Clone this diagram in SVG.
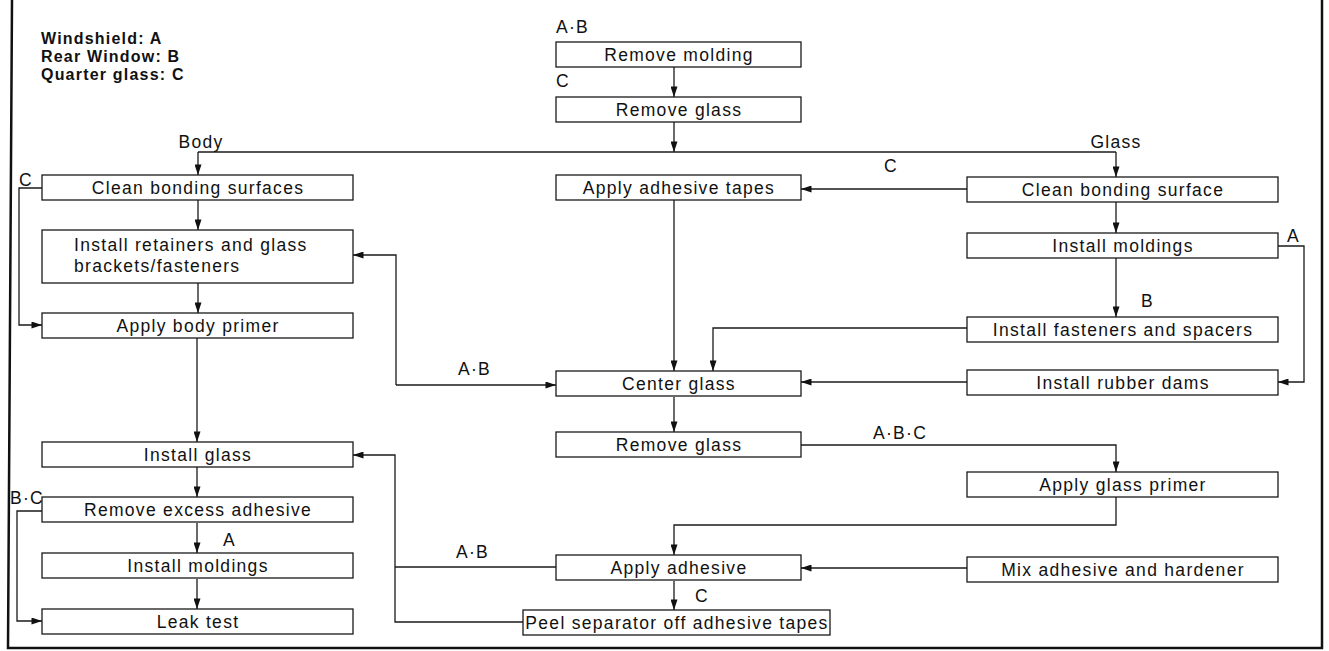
<svg xmlns="http://www.w3.org/2000/svg" width="1329" height="651" viewBox="0 0 1329 651">
<style>
.box{fill:#fff;stroke:#1a1a1a;stroke-width:1.3}
.t{font-family:"Liberation Sans",Arial,sans-serif;font-size:17.5px;letter-spacing:1.3px;fill:#111}
.c{text-anchor:middle}
.leg{font-family:"Liberation Sans",Arial,sans-serif;font-size:16px;font-weight:bold;letter-spacing:1.2px;fill:#111}
.ln{fill:none;stroke:#1a1a1a;stroke-width:1.3}
.frame{fill:none;stroke:#111;stroke-width:2.5}
</style>
<defs>
<marker id="ah" viewBox="0 0 12 8" refX="12" refY="4" markerWidth="12" markerHeight="7" markerUnits="userSpaceOnUse" orient="auto">
<path d="M0,0 L12,4 L0,8 z" fill="#111"/>
</marker>
</defs>
<rect width="1329" height="651" fill="#fff"/>
<path class="frame" d="M12,0 L8,648 L1322,648 L1322,0"/>
<g id="legend">
<text class="leg" x="41" y="44">Windshield: A</text>
<text class="leg" x="41" y="62">Rear Window: B</text>
<text class="leg" x="41" y="80">Quarter glass: C</text>
</g>
<g id="connectors">
<path class="ln" marker-end="url(#ah)" d="M674,67 V97"/>
<path class="ln" marker-end="url(#ah)" d="M674,122 V152"/>
<path class="ln" d="M198,152 H1116"/>
<path class="ln" marker-end="url(#ah)" d="M198,152 V175"/>
<path class="ln" marker-end="url(#ah)" d="M1116,152 V177"/>
<path class="ln" marker-end="url(#ah)" d="M198,200 V230"/>
<path class="ln" marker-end="url(#ah)" d="M198,283 V313"/>
<path class="ln" marker-end="url(#ah)" d="M42,188 H19 V325 H42"/>
<path class="ln" marker-end="url(#ah)" d="M197,338 V442"/>
<path class="ln" marker-end="url(#ah)" d="M197,467 V497"/>
<path class="ln" marker-end="url(#ah)" d="M197,523 V553"/>
<path class="ln" marker-end="url(#ah)" d="M197,579 V609"/>
<path class="ln" marker-end="url(#ah)" d="M42,511 H17 V621 H42"/>
<path class="ln" marker-end="url(#ah)" d="M967,189 H801"/>
<path class="ln" marker-end="url(#ah)" d="M674,200 V371"/>
<path class="ln" marker-end="url(#ah)" d="M1116,202 V233"/>
<path class="ln" marker-end="url(#ah)" d="M1116,258 V317"/>
<path class="ln" marker-end="url(#ah)" d="M1278,246 H1304 V382 H1278"/>
<path class="ln" marker-end="url(#ah)" d="M967,328 H713 V371"/>
<path class="ln" marker-end="url(#ah)" d="M967,382 H801"/>
<path class="ln" marker-end="url(#ah)" d="M396,385 H556"/>
<path class="ln" marker-end="url(#ah)" d="M396,385 V255 H353"/>
<path class="ln" marker-end="url(#ah)" d="M674,397 V432"/>
<path class="ln" marker-end="url(#ah)" d="M801,445 H1116 V472"/>
<path class="ln" marker-end="url(#ah)" d="M1116,497 V525 H674 V555"/>
<path class="ln" marker-end="url(#ah)" d="M967,568 H801"/>
<path class="ln" marker-end="url(#ah)" d="M674,581 V610"/>
<path class="ln" d="M556,567 H395"/>
<path class="ln" marker-end="url(#ah)" d="M523,622 H395 V455 H353"/>
</g>
<g id="labels">
<text class="t" x="556" y="33">A·B</text>
<text class="t" x="556" y="87">C</text>
<text class="t c" x="201" y="148">Body</text>
<text class="t c" x="1116" y="148">Glass</text>
<text class="t" x="19" y="186">C</text>
<text class="t" x="884" y="172">C</text>
<text class="t" x="1287" y="242">A</text>
<text class="t" x="1141" y="307">B</text>
<text class="t" x="458" y="375">A·B</text>
<text class="t" x="873" y="439">A·B·C</text>
<text class="t" x="10" y="504">B·C</text>
<text class="t" x="223" y="546">A</text>
<text class="t" x="456" y="558">A·B</text>
<text class="t" x="695" y="602">C</text>
</g>
<g id="n-remove-molding"><rect class="box" x="556" y="42" width="245" height="25"/><text class="t c" x="679" y="61">Remove molding</text></g>
<g id="n-remove-glass-1"><rect class="box" x="556" y="97" width="245" height="25"/><text class="t c" x="679" y="116">Remove glass</text></g>
<g id="n-clean-body"><rect class="box" x="42" y="175" width="311" height="25"/><text class="t c" x="198" y="194">Clean bonding surfaces</text></g>
<g id="n-retainers"><rect class="box" x="42" y="230" width="311" height="53"/><text class="t" x="74" y="251">Install retainers and glass</text><text class="t" x="74" y="272">brackets/fasteners</text></g>
<g id="n-body-primer"><rect class="box" x="42" y="313" width="311" height="25"/><text class="t c" x="198" y="332">Apply body primer</text></g>
<g id="n-install-glass"><rect class="box" x="42" y="442" width="311" height="25"/><text class="t c" x="198" y="461">Install glass</text></g>
<g id="n-remove-excess"><rect class="box" x="42" y="497" width="311" height="25"/><text class="t c" x="198" y="516">Remove excess adhesive</text></g>
<g id="n-install-moldings-body"><rect class="box" x="42" y="553" width="311" height="25"/><text class="t c" x="198" y="572">Install moldings</text></g>
<g id="n-leak-test"><rect class="box" x="42" y="609" width="311" height="25"/><text class="t c" x="198" y="628">Leak test</text></g>
<g id="n-adhesive-tapes"><rect class="box" x="556" y="175" width="245" height="25"/><text class="t c" x="679" y="194">Apply adhesive tapes</text></g>
<g id="n-center-glass"><rect class="box" x="556" y="371" width="245" height="25"/><text class="t c" x="679" y="390">Center glass</text></g>
<g id="n-remove-glass-2"><rect class="box" x="556" y="432" width="245" height="25"/><text class="t c" x="679" y="451">Remove glass</text></g>
<g id="n-apply-adhesive"><rect class="box" x="556" y="555" width="245" height="25"/><text class="t c" x="679" y="574">Apply adhesive</text></g>
<g id="n-peel"><rect class="box" x="523" y="610" width="307" height="25"/><text class="t c" x="677" y="629">Peel separator off adhesive tapes</text></g>
<g id="n-clean-glass"><rect class="box" x="967" y="177" width="311" height="25"/><text class="t c" x="1123" y="196">Clean bonding surface</text></g>
<g id="n-install-moldings-glass"><rect class="box" x="967" y="233" width="311" height="25"/><text class="t c" x="1123" y="252">Install moldings</text></g>
<g id="n-fasteners"><rect class="box" x="967" y="317" width="311" height="25"/><text class="t c" x="1123" y="336">Install fasteners and spacers</text></g>
<g id="n-rubber-dams"><rect class="box" x="967" y="370" width="311" height="25"/><text class="t c" x="1123" y="389">Install rubber dams</text></g>
<g id="n-glass-primer"><rect class="box" x="967" y="472" width="311" height="25"/><text class="t c" x="1123" y="491">Apply glass primer</text></g>
<g id="n-mix"><rect class="box" x="967" y="557" width="311" height="25"/><text class="t c" x="1123" y="576">Mix adhesive and hardener</text></g>
</svg>
